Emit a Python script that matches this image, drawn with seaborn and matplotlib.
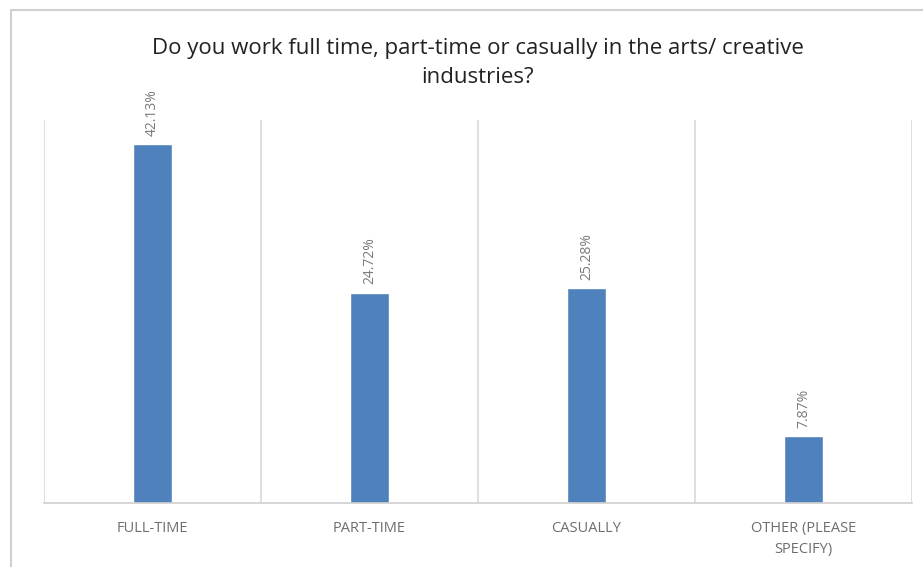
import matplotlib
matplotlib.use("Agg")
import matplotlib.pyplot as plt
import seaborn as sns
import pandas as pd
from matplotlib.patches import Rectangle

categories = ["FULL-TIME", "PART-TIME", "CASUALLY", "OTHER (PLEASE\nSPECIFY)"]
values = [42.13, 24.72, 25.28, 7.87]
labels = ["42.13%", "24.72%", "25.28%", "7.87%"]
title = "Do you work full time, part-time or casually in the arts/ creative\nindustries?"

sns.set_theme(style="white")
plt.rcParams['font.family'] = ['Open Sans', 'DejaVu Sans']

df = pd.DataFrame({"cat": categories, "val": values})

fig = plt.figure(figsize=(9.23, 5.67), dpi=100)
# outer chart frame (cropped screenshot)
fig.patches.append(Rectangle((11/923, -0.1), 1.2, 1 - 10/567 + 0.1, transform=fig.transFigure,
                             fill=False, edgecolor="#d0d0d0", linewidth=1.5, zorder=0))

ax = fig.add_axes([44/923, 1 - 503/567, (912 - 44)/923, (503 - 120)/567])
sns.barplot(data=df, x="cat", y="val", color="#4F81BD", width=0.18, ax=ax, saturation=1)

ax.set_ylim(0, 45)
ax.set_xlim(-0.5, 3.5)
ax.set_yticks([])
ax.set_xlabel("")
ax.set_ylabel("")
for s in ["top", "right", "left"]:
    ax.spines[s].set_visible(False)
ax.spines["bottom"].set_color("#d0d0d0")
ax.spines["bottom"].set_linewidth(1.2)

ax.set_xticks([-0.5, 0.5, 1.5, 2.5, 3.5], minor=True)
ax.grid(True, which="minor", axis="x", color="#d9d9d9", linewidth=1.2)
ax.set_axisbelow(True)
ax.tick_params(axis="x", which="both", length=0, pad=13, labelsize=10.5, labelcolor="#6e6e6e")
ax.set_xticks(range(len(categories)))
ax.set_xticklabels(categories, linespacing=1.5)

for i, (v, lab) in enumerate(zip(values, labels)):
    ax.annotate(lab, (i, v), xytext=(0, 6), textcoords="offset points",
                rotation=90, ha="center", va="bottom", fontsize=10, color="#7a7a7a")

fig.text(478/923, 1 - 63/567, title, ha="center", va="center", fontsize=16,
         color="#222222", linespacing=1.5)

fig.savefig("out.png", dpi=100)
